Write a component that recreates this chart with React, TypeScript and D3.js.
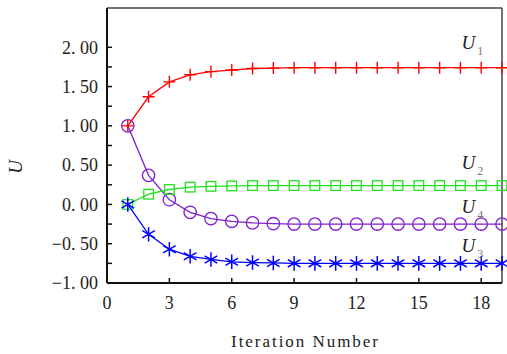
import { useEffect, useRef } from "react";
import * as d3 from "d3";

const iterations = d3.range(1, 20);
const u1 = [1.0, 1.37, 1.56, 1.65, 1.69, 1.71, 1.73, 1.735, 1.74, 1.74, 1.74, 1.74, 1.74, 1.74, 1.74, 1.74, 1.74, 1.74, 1.74];
const u2 = [0.0, 0.13, 0.19, 0.22, 0.23, 0.235, 0.24, 0.24, 0.24, 0.24, 0.24, 0.24, 0.24, 0.24, 0.24, 0.24, 0.24, 0.24, 0.24];
const u3 = [0.0, -0.38, -0.57, -0.66, -0.7, -0.73, -0.74, -0.745, -0.75, -0.75, -0.75, -0.75, -0.75, -0.75, -0.75, -0.75, -0.75, -0.75, -0.75];
const u4 = [1.0, 0.37, 0.06, -0.1, -0.18, -0.215, -0.235, -0.245, -0.25, -0.25, -0.25, -0.25, -0.25, -0.25, -0.25, -0.25, -0.25, -0.25, -0.25];
const xTicks = [0, 3, 6, 9, 12, 15, 18];
const yTicks = [-1, -0.5, 0, 0.5, 1, 1.5, 2];
const yMinorTicks = [-0.75, -0.25, 0.25, 0.75, 1.25, 1.75];

type Marker = "plus" | "square" | "asterisk" | "circle";
const series: { key: string; sub: string; color: string; marker: Marker; values: number[]; labelDy: number }[] = [
  { key: "u4", sub: "4", color: "#7f1fcf", marker: "circle", values: u4, labelDy: 17 },
  { key: "u1", sub: "1", color: "#ff0000", marker: "plus", values: u1, labelDy: 25 },
  { key: "u2", sub: "2", color: "#22e022", marker: "square", values: u2, labelDy: 23 },
  { key: "u3", sub: "3", color: "#0000ff", marker: "asterisk", values: u3, labelDy: 17 },
];

const W = 507, H = 354;
const margin = { top: 8, right: 5, bottom: 71, left: 107 };
const SERIF = "Liberation Serif";

const fmtY = (v: number) => {
  const s = Math.abs(v).toFixed(2).replace(".", ". ");
  return v < 0 ? "\u2212" + s : s;
};

export default function App() {
  const ref = useRef<SVGSVGElement>(null);

  useEffect(() => {
    const svg = d3.select(ref.current);
    svg.selectAll("*").remove();
    const width = W - margin.left - margin.right;
    const height = H - margin.top - margin.bottom;
    const x = d3.scaleLinear().domain([0, 19]).range([0, width]);
    const y = d3.scaleLinear().domain([-1, 2.5]).range([height, 0]);

    const g = svg.append("g").attr("transform", `translate(${margin.left},${margin.top})`);

    // frame: top/right grey, left/bottom black
    g.append("line").attr("x1", 0).attr("x2", width).attr("y1", 0).attr("y2", 0).attr("stroke", "#444").attr("stroke-width", 1.5);
    g.append("line").attr("x1", width).attr("x2", width).attr("y1", 0).attr("y2", height).attr("stroke", "#444").attr("stroke-width", 1.5);

    // y axis ticks (inward)
    g.selectAll(".ytick").data([...yTicks, ...yMinorTicks]).enter().append("line")
      .attr("x1", 0).attr("x2", 5).attr("y1", d => y(d)).attr("y2", d => y(d))
      .attr("stroke", "#111").attr("stroke-width", 1.5);
    g.selectAll(".ylab").data(yTicks).enter().append("text")
      .attr("x", -9).attr("y", d => y(d)).attr("dy", "0.35em")
      .attr("text-anchor", "end").style("font-family", SERIF).style("font-size", "18px").attr("fill", "#222")
      .text(d => fmtY(d));

    // x axis ticks (inward)
    g.selectAll(".xtick").data(xTicks).enter().append("line")
      .attr("x1", d => x(d)).attr("x2", d => x(d)).attr("y1", height).attr("y2", height - 5)
      .attr("stroke", "#111").attr("stroke-width", 1.5);
    g.selectAll(".xlab").data(xTicks).enter().append("text")
      .attr("x", d => x(d)).attr("y", height + 20).attr("dy", "0.35em")
      .attr("text-anchor", "middle").style("font-family", SERIF).style("font-size", "18px").attr("fill", "#222")
      .text(d => String(d));

    g.append("line").attr("x1", 0).attr("x2", 0).attr("y1", 0).attr("y2", height).attr("stroke", "#111").attr("stroke-width", 2);
    g.append("line").attr("x1", 0).attr("x2", width).attr("y1", height).attr("y2", height).attr("stroke", "#111").attr("stroke-width", 2);

    // axis titles
    svg.append("text").attr("x", margin.left + x(9.5)).attr("y", 347)
      .attr("text-anchor", "middle").style("font-family", SERIF).style("font-size", "17px").attr("fill", "#222")
      .attr("textLength", 147).attr("lengthAdjust", "spacing")
      .text("Iteration Number");
    svg.append("text").attr("transform", "translate(22,167) rotate(-90)")
      .attr("text-anchor", "middle").style("font-family", SERIF).style("font-style", "italic").style("font-size", "19px").attr("fill", "#222")
      .text("U");

    const plot = g.append("g");
    const line = d3.line<number>().x((_, i) => x(iterations[i])).y(d => y(d));

    series.forEach(s => {
      plot.append("path").datum(s.values).attr("fill", "none").attr("stroke", s.color).attr("stroke-width", 1.3).attr("d", line);
      const pts = plot.selectAll(`.m-${s.key}`).data(s.values).enter().append("g")
        .attr("transform", (d, i) => `translate(${x(iterations[i])},${y(d)})`);
      if (s.marker === "circle") {
        pts.append("circle").attr("r", 6.2).attr("fill", "none").attr("stroke", s.color).attr("stroke-width", 1.3);
      } else if (s.marker === "square") {
        pts.append("rect").attr("x", -4.8).attr("y", -4.8).attr("width", 9.6).attr("height", 9.6)
          .attr("fill", "none").attr("stroke", s.color).attr("stroke-width", 1.3);
      } else if (s.marker === "plus") {
        pts.append("path").attr("d", "M-6,0H6M0,-6V6").attr("stroke", s.color).attr("stroke-width", 1.4);
      } else {
        pts.append("path").attr("d", d3.symbol(d3.symbolAsterisk, 150)()).attr("fill", "none").attr("stroke", s.color).attr("stroke-width", 1.5);
      }

      const last = s.values[s.values.length - 1];
      const lab = g.append("text").attr("x", x(17.05)).attr("y", y(last) - s.labelDy + 6)
        .style("font-family", SERIF).style("font-size", "19px").attr("fill", "#222");
      lab.append("tspan").style("font-style", "italic").text("U");
      lab.append("tspan").style("font-size", "12px").attr("fill", "#777").attr("dx", 2).attr("dy", 6).text(s.sub);
    });
  }, []);

  return (
    <div style={{ position: "absolute", left: 0, top: 0, background: "#fff" }}>
      <svg ref={ref} width={W} height={H} style={{ display: "block" }} />
    </div>
  );
}
